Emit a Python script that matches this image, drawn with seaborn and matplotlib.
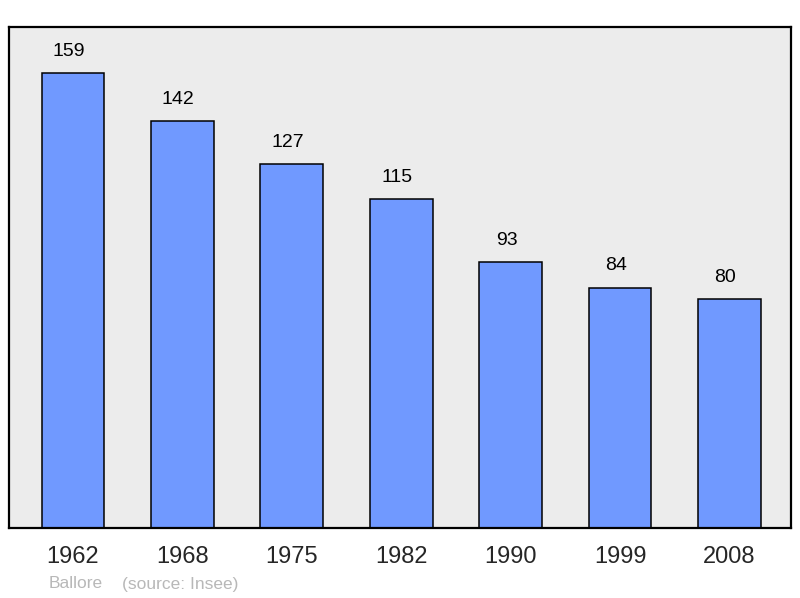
import matplotlib
matplotlib.use("Agg")
import matplotlib.pyplot as plt
import seaborn as sns
import pandas as pd

years = ["1962", "1968", "1975", "1982", "1990", "1999", "2008"]
population = [159, 142, 127, 115, 93, 84, 80]
place = "Ballore"
source = "(source: Insee)"

sns.set_style("white")
plt.rcParams["font.family"] = ["Liberation Sans", "DejaVu Sans"]

df = pd.DataFrame({"year": years, "pop": population})

fig = plt.figure(figsize=(8, 5.98), dpi=100)
ax = fig.add_axes([9/800, 1-528/598, (791-9)/800, (528-27)/598])
ax.set_facecolor("#ececec")

sns.barplot(data=df, x="year", y="pop", color="#7099ff", saturation=1,
            edgecolor="black", linewidth=1.1, width=0.575, ax=ax)

for i, v in enumerate(population):
    ax.annotate(str(v), xy=(i, v), xytext=(-3, 15.5), textcoords="offset points",
                ha="center", va="center", fontsize=14, color="black")

ax.set_ylim(0, 175)
ax.set_xlim(-0.585, 6.563)
ax.set_yticks([])
ax.set_xlabel("")
ax.set_ylabel("")
ax.tick_params(axis="x", length=0, labelsize=17, pad=13)
for s in ax.spines.values():
    s.set_visible(True)
    s.set_color("black")
    s.set_linewidth(1.6)

fig.text(49/800, 1-584/598, place, fontsize=12.5, color="#b8b8b8", va="center", ha="left")
fig.text(122/800, 1-584/598, source, fontsize=12.5, color="#b8b8b8", va="center", ha="left")

fig.savefig("out.png", dpi=100)
